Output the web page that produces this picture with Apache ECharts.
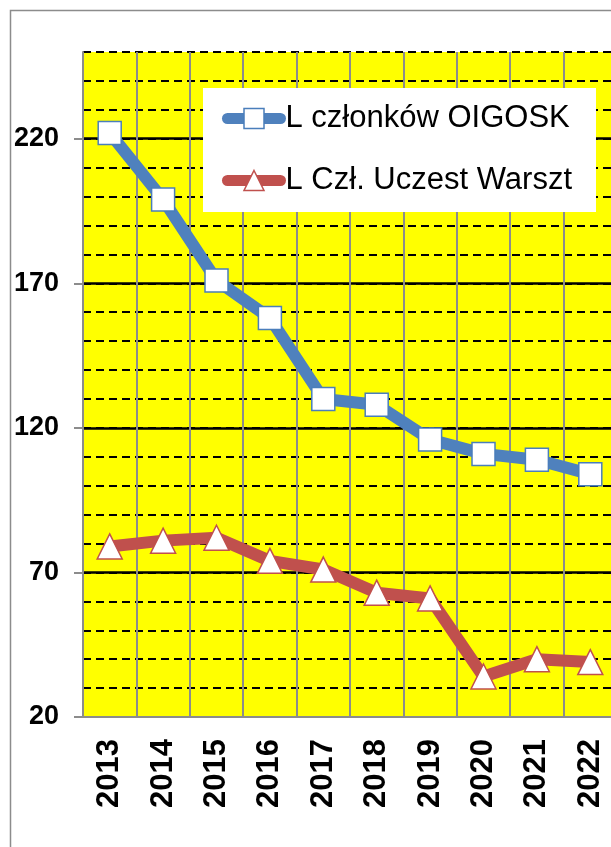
<!DOCTYPE html>
<html><head><meta charset="utf-8">
<script src="https://cdn.jsdelivr.net/npm/echarts@6/dist/echarts.min.js"></script>
<style>html,body{margin:0;padding:0;background:#fff}#c{width:611px;height:847px}</style>
</head><body><div id="c"></div>
<script>
const years = ['2013','2014','2015','2016','2017','2018','2019','2020','2021','2022'];
const membersOIGOSK = [222, 199, 171, 158, 130, 128, 116, 111, 109, 104];
const workshopParticipants = [79, 81, 82, 74, 71, 63, 61, 34, 40, 39];
const majorTicks = [20, 70, 120, 170, 220];
const seriesNames = ['L członków OIGOSK', 'L Czł. Uczest Warszt'];

const blue = '#4F81BD', blueEdge = '#4a7ebb', red = '#C0504D', gray = '#8c8c8c';
const font = 'Liberation Sans, Arial, sans-serif';
const chart = echarts.init(document.getElementById('c'), null, {renderer: 'canvas'});
chart.setOption({
  animation: false,
  backgroundColor: '#fff',
  textStyle: {fontFamily: font},
  graphic: [{type: 'rect', silent: true, z: -10,
    shape: {x: 10.5, y: 10.5, width: 800, height: 1000},
    style: {fill: null, stroke: gray, lineWidth: 1.5}}],
  grid: {left: 83, top: 52, right: -6, bottom: 130, show: true,
    backgroundColor: '#ffff00', borderWidth: 0, outerBoundsMode: 'none', containLabel: false},
  legend: {
    orient: 'vertical', left: 203, top: 88, align: 'left',
    backgroundColor: '#fff', borderWidth: 0,
    padding: [15, 24, 16, 19],
    itemGap: 31, itemWidth: 53, itemHeight: 25, itemTextGap: 7,
    textStyle: {fontSize: 31, color: '#000', fontFamily: font},
    lineStyle: {width: 11, cap: 'round'},
    data: [
      {name: seriesNames[0], lineStyle: {color: blue, width: 11, cap: 'round'},
       itemStyle: {color: '#fff', borderColor: blueEdge, borderWidth: 1.5}},
      {name: seriesNames[1], lineStyle: {color: red, width: 11, cap: 'round'},
       itemStyle: {color: '#fff', borderColor: red, borderWidth: 1.5}}
    ]
  },
  xAxis: {
    type: 'category', data: years, boundaryGap: true,
    axisLine: {lineStyle: {color: gray, width: 2}},
    axisTick: {length: 9, lineStyle: {color: gray, width: 2}},
    splitLine: {show: true, lineStyle: {color: gray, width: 2}},
    axisLabel: {rotate: 90, interval: 0, fontSize: 31, fontWeight: 'bold', color: '#000', margin: 22, fontFamily: font}
  },
  yAxis: [
    {type: 'value', min: 20, max: 250, interval: 10, position: 'left',
     axisLine: {show: false}, axisTick: {show: false}, axisLabel: {show: false},
     splitLine: {show: true, showMinLine: false, lineStyle: {color: '#000', width: 2.2, type: [8, 5]}}},
    {type: 'value', min: 20, max: 250, interval: 50, position: 'left',
     axisLine: {show: true, lineStyle: {color: gray, width: 2}},
     axisTick: {show: true, length: 9, customValues: majorTicks, lineStyle: {color: gray, width: 2}},
     axisLabel: {customValues: majorTicks, fontSize: 27, fontWeight: 'bold', color: '#000', margin: 24, fontFamily: font},
     splitLine: {show: true, showMinLine: false, lineStyle: {color: '#000', width: 2.6}}}
  ],
  series: [
    {name: seriesNames[0], type: 'line', data: membersOIGOSK, yAxisIndex: 0,
     symbol: 'rect', symbolSize: 23, showSymbol: true, showAllSymbol: true,
     lineStyle: {color: blue, width: 12, join: 'round'},
     itemStyle: {color: '#fff', borderColor: blueEdge, borderWidth: 1.5}, z: 3},
    {name: seriesNames[1], type: 'line', data: workshopParticipants, yAxisIndex: 0,
     symbol: 'triangle', symbolSize: 25, showSymbol: true, showAllSymbol: true,
     lineStyle: {color: red, width: 12, join: 'round'},
     itemStyle: {color: '#fff', borderColor: red, borderWidth: 1.5}, z: 4}
  ]
});
</script></body></html>
